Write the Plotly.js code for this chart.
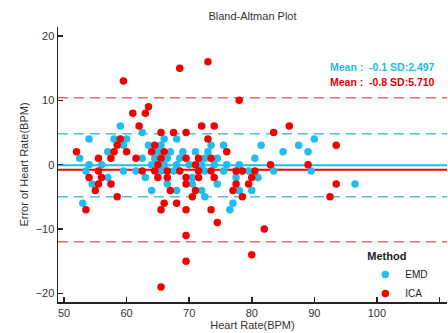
<!DOCTYPE html>
<html>
<head>
<meta charset="utf-8">
<script src="https://cdn.plot.ly/plotly-3.0.1.min.js"></script>
<style>html,body{margin:0;padding:0;background:#fff}#chart{width:448px;height:333px}</style>
</head>
<body>
<div id="chart"></div>
<script>
// EMD series (mean heart rate, difference)
const emdX = [59,
  62.5,
  54,58,60,66,68,90,
  59.5,63.5,65.5,73.5,75.5,81.5,87.5,
  57,65,67,69,71,73,85,89,
  52.5,62.5,64.5,66.5,68.5,72.5,74.5,80.5,
  54,56,64,66,68,70,72,74,76,78,
  53.5,59.5,61.5,65.5,67.5,72.5,75.5,79.5,83.5,89.5,
  57,63,70.5,77.5,81,
  54.5,66.5,70.5,74.5,96.5,
  64,68,72,78,80,
  72.5,
  53,77,
  76.5];
const emdY = [6,
  5,
  4,4,4,4,4,4,
  3,3,3,3,3,3,3,
  2,2,2,2,2,2,2,2,
  1,1,1,1,1,1,1,1,
  0,0,0,0,0,0,0,0,0,0,
  -1,-1,-1,-1,-1,-1,-1,-1,-1,-1,
  -2,-2,-2,-2,-2,
  -3,-3,-3,-3,-3,
  -4,-4,-4,-4,-4,
  -5,
  -6,-6,
  -7];
// ICA series
const icaX = [73,68.5,59.5,78,63.5,
  61,63,
  62,72,74,86,
  65.5,67.5,69.5,83.5,
  59,73,
  58.5,64.5,93.5,
  52,58,60,64,66,76,
  55.5,57.5,61.5,65.5,69.5,71.5,73.5,
  65,71,83,89,
  55.5,62.5,64.5,66.5,68.5,71.5,73.5,77.5,78.5,80.5,
  54,56,65,66.5,69.5,71.5,74,80,
  55.5,57.5,69.5,77.5,79.5,93.5,
  55,67,71,77,
  58.5,70.5,78.5,92.5,
  66,68,
  53.5,65.5,69.5,73.5,
  74.5,82,69.5,80,69.5,65.5];
const icaY = [16,15,13,10,9,
  8,8,
  6,6,6,6,
  5,5,5,5,
  4,4,
  3,3,3,
  2,2,2,2,2,2,
  1,1,1,1,1,1,1,
  0,0,0,0,
  -1,-1,-1,-1,-1,-1,-1,-1,-1,-1,
  -2,-2,-2,-2,-2,-2,-2,-2,
  -3,-3,-3,-3,-3,-3,
  -4,-4,-4,-4,
  -5,-5,-5,-5,
  -6,-6,
  -7,-7,-7,-7,
  -9,-10,-11,-14,-15,-19];

const seriesNames = ['EMD','ICA'];
const means = [-0.1, -0.8];
const sds = [2.497, 5.710];
const xTicks = [50,60,70,80,90,100,110];
const yTicks = [-20,-10,0,10,20];

const blue = '#1fbdf0', red = '#f20000';
const blueDash = '#4fc0d8', redDash = '#e07070';

const traces = [
  {x: emdX, y: emdY, name: seriesNames[0], type:'scatter', mode:'markers',
   marker:{color: blue, size: 7.5}},
  {x: icaX, y: icaY, name: seriesNames[1], type:'scatter', mode:'markers',
   marker:{color: red, size: 7.5}}
];

function hline(y, color, width, dash){
  return {type:'line', xref:'paper', x0:0, x1:1, yref:'y', y0:y, y1:y, layer:'below',
          line:{color:color, width:width, dash:dash}};
}
const shapes = [
  hline(means[1]+1.96*sds[1], redDash, 1.5, '10px,6px'),
  hline(means[1]-1.96*sds[1], redDash, 1.5, '10px,6px'),
  hline(means[0]+1.96*sds[0], blueDash, 1.5, '10px,6px'),
  hline(means[0]-1.96*sds[0], blueDash, 1.5, '10px,6px'),
  hline(means[1], red, 2, 'solid'),
  hline(means[0], blue, 2, 'solid')
];

const fmt = (m, s) => 'Mean :  ' + m.toFixed(1) + ' SD:' + s.toFixed(3);

const font = 'Arial, "Liberation Sans", sans-serif';
const layout = {
  width: 448, height: 333,
  margin: {l:58, r:1, t:27, b:31},
  paper_bgcolor:'#fff', plot_bgcolor:'#fff',
  font: {family: font, size: 11, color:'#333'},
  title: {text:'Bland-Altman Plot', font:{size:11, color:'#333'}, x:0.5, xref:'paper',
          y: 1-16/333, yanchor:'middle'},
  showlegend: true,
  legend: {x:0.79, y:0.205, xanchor:'left', yanchor:'top', bgcolor:'rgba(0,0,0,0)',
           title:{text:'<b>Method</b>', font:{size:11, color:'#222'}},
           font:{size:10, color:'#222'}, itemwidth:30, tracegroupgap:0},
  xaxis: {range:[49.04, 111.2], tickvals:xTicks, ticks:'inside', ticklen:5, tickwidth:1.5,
          tickcolor:'#222', showline:true, linecolor:'#222', linewidth:1.5, showgrid:false,
          zeroline:false, tickfont:{size:11, color:'#333'},
          title:{text:'Heart Rate(BPM)', font:{size:11, color:'#333'}, standoff:3}},
  yaxis: {range:[-21.35, 21.4], tickvals:yTicks, ticks:'inside', ticklen:5, tickwidth:1.5,
          tickcolor:'#222', showline:true, linecolor:'#222', linewidth:1.5, showgrid:false,
          zeroline:false, tickfont:{size:11, color:'#333'},
          title:{text:'Error of Heart Rate(BPM)', font:{size:11, color:'#333'}, standoff:5}},
  shapes: shapes,
  annotations: [
    {xref:'paper', yref:'paper', x:0.975, y:0.855, xanchor:'right', yanchor:'middle', showarrow:false,
     text:'<b>'+fmt(means[0], sds[0])+'</b>', font:{size:10.5, color:'#29b6e8'}},
    {xref:'paper', yref:'paper', x:0.975, y:0.80, xanchor:'right', yanchor:'middle', showarrow:false,
     text:'<b>'+fmt(means[1], sds[1])+'</b>', font:{size:10.5, color:'#e00000'}}
  ]
};
Plotly.newPlot('chart', traces, layout, {staticPlot:true, displayModeBar:false});
</script>
</body>
</html>
